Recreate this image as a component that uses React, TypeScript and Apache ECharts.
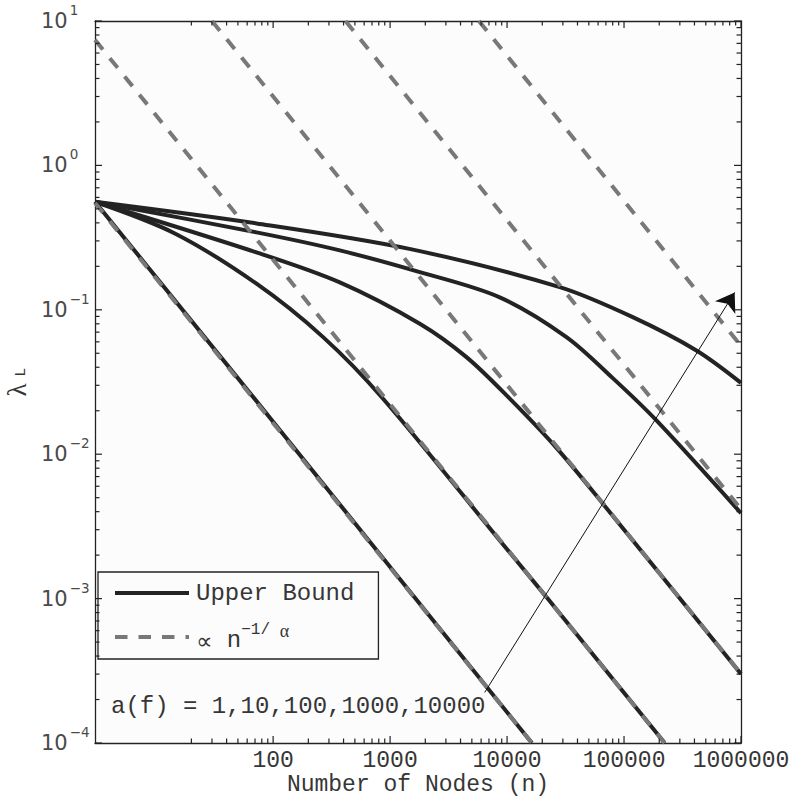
import React, { useEffect, useRef } from "react";
import * as echarts from "echarts";

// ---- axis ranges ----
const xMin = 3;
const xMax = 1000000;
const yMin = 0.0001;
const yMax = 10;

// ---- tick labels / tick values ----
const xLabelValues = [100, 1000, 10000, 100000, 1000000];
const xMinorDecades = [10, 100, 1000, 10000, 100000];
const yMajorTicks = [0.0001, 0.001, 0.01, 0.1, 1, 10];
const yMinorDecades = [0.0001, 0.001, 0.01, 0.1, 1];
const minorMultipliers = [2, 3, 4, 5, 6, 7, 8, 9];

// ---- Upper bound curves (n, lambda_L) for a(f) = 1, 10, 100, 1000, 10000 ----
const boundA1 = [[3, 0.56], [100, 0.0168], [16300, 0.0001]];
const boundA10 = [
  [3, 0.56], [14.45, 0.338], [72.1, 0.1516], [267.6, 0.0647], [871, 0.02423],
  [8660, 0.002529], [21720, 0.001024], [222800, 0.0001],
];
const boundA100 = [
  [3, 0.56], [72.1, 0.2497], [371.7, 0.1548], [1794, 0.0801], [4498, 0.047],
  [10546, 0.02423], [26430, 0.01106], [66160, 0.004527], [1000000, 0.000301],
];
const boundA1000 = [
  [3, 0.56], [72.1, 0.3436], [371.7, 0.2578], [1794, 0.1824], [8660, 0.1219],
  [32190, 0.0647], [80540, 0.03349], [189200, 0.01714], [1000000, 0.003904],
];
const boundA10000 = [
  [3, 0.56], [72.1, 0.3966], [1462, 0.2641], [28210, 0.1436],
  [118700, 0.089], [415700, 0.0523], [1000000, 0.0312],
];

// ---- proportional to n^(-1/alpha) reference lines ----
const propA1 = [[3, 0.55], [16300, 0.0001]];
const propA10 = [[3, 7.4], [222000, 0.0001]];
const propA100 = [[30, 10], [1000000, 0.000302]];
const propA1000 = [[416, 10], [1000000, 0.00417]];
const propA10000 = [[5750, 10], [1000000, 0.0563]];

// ---- arrow annotation (start, end) ----
const arrowCoords = [[6440, 0.000224], [883000, 0.132]];
const annotationText = "a(f) = 1,10,100,1000,10000";

const boundSeries = [boundA1, boundA10, boundA100, boundA1000, boundA10000];
const propSeries = [propA1, propA10, propA100, propA1000, propA10000];

const SOLID = "#232323";
const DASH = "#787878";
const FRAME = "#222222";
const TEXT = "#363636";
const MONO = '"Liberation Mono", "DejaVu Sans Mono", monospace';

export default function App() {
  const ref = useRef<HTMLDivElement>(null);

  useEffect(() => {
    if (!ref.current) return;
    const chart = echarts.init(ref.current, undefined, { renderer: "svg" });

    const xTickData: number[][] = [];
    xLabelValues.forEach((v) => xTickData.push([v, yMax, 7]));
    xMinorDecades.forEach((d) =>
      minorMultipliers.forEach((m) => xTickData.push([d * m, yMax, 4.5]))
    );
    const yTickData: number[][] = [];
    yMajorTicks.forEach((v) => yTickData.push([xMax, v, 7]));
    yMinorDecades.forEach((d) =>
      minorMultipliers.forEach((m) => yTickData.push([xMax, d * m, 4.5]))
    );

    const tickStyle = { stroke: FRAME, lineWidth: 1.2 };

    const series: any[] = [];
    boundSeries.forEach((data, i) =>
      series.push({
        type: "line",
        name: "Upper Bound",
        data,
        showSymbol: false,
        symbol: "none",
        smooth: i === 0 ? false : 0.32,
        lineStyle: { color: SOLID, width: 4 },
        itemStyle: { color: SOLID },
        clip: true,
        z: 3,
      })
    );
    propSeries.forEach((data) =>
      series.push({
        type: "line",
        name: "prop",
        data,
        showSymbol: false,
        symbol: "none",
        lineStyle: { color: DASH, width: 4, type: [12.5, 11] },
        itemStyle: { color: DASH },
        clip: true,
        z: 4,
      })
    );
    series.push({
      type: "lines",
      coordinateSystem: "cartesian2d",
      xAxisIndex: 0,
      yAxisIndex: 0,
      data: [{ coords: arrowCoords }],
      symbol: ["none", "arrow"],
      symbolSize: [12, 18],
      lineStyle: { color: "#111", width: 1, opacity: 1, curveness: 0 },
      silent: true,
      z: 5,
    });
    series.push({
      type: "custom",
      name: "xticks",
      xAxisIndex: 0,
      yAxisIndex: 0,
      data: xTickData,
      clip: false,
      silent: true,
      z: 6,
      encode: { x: 0, y: 1 },
      renderItem: (params: any, api: any) => {
        const cs = params.coordSys;
        const x = api.coord([api.value(0), yMax])[0];
        const len = api.value(2);
        return {
          type: "group",
          children: [
            { type: "line", shape: { x1: x, y1: cs.y + cs.height, x2: x, y2: cs.y + cs.height - len }, style: tickStyle },
            { type: "line", shape: { x1: x, y1: cs.y, x2: x, y2: cs.y + len }, style: tickStyle },
          ],
        };
      },
    });
    series.push({
      type: "custom",
      name: "yticks",
      xAxisIndex: 0,
      yAxisIndex: 0,
      data: yTickData,
      clip: false,
      silent: true,
      z: 6,
      encode: { x: 0, y: 1 },
      renderItem: (params: any, api: any) => {
        const cs = params.coordSys;
        const y = api.coord([xMax, api.value(1)])[1];
        const len = api.value(2);
        return {
          type: "group",
          children: [
            { type: "line", shape: { x1: cs.x, y1: y, x2: cs.x + len, y2: y }, style: tickStyle },
            { type: "line", shape: { x1: cs.x + cs.width, y1: y, x2: cs.x + cs.width - len, y2: y }, style: tickStyle },
          ],
        };
      },
    });

    const baseAxis = {
      type: "log" as const,
      logBase: 10,
      axisLine: { show: true, onZero: false, lineStyle: { color: FRAME, width: 1.3 } },
      axisTick: { show: false },
      splitLine: { show: false },
      minorTick: { show: false },
    };

    chart.setOption({
      animation: false,
      backgroundColor: "#ffffff",
      grid: {
        left: 95,
        right: 51,
        top: 21,
        bottom: 55,
        containLabel: false,
        outerBoundsMode: "none",
        show: true,
        backgroundColor: "#fcfcfc",
        borderWidth: 0,
      },
      xAxis: [
        {
          ...baseAxis,
          position: "bottom",
          min: xMin,
          max: xMax,
          axisLabel: {
            show: true,
            showMinLabel: false,
            margin: 6,
            fontFamily: MONO,
            fontSize: 23,
            color: TEXT,
            formatter: (v: number) => {
              const r = Math.round(v);
              return xLabelValues.indexOf(r) >= 0 ? String(r) : "";
            },
          },
          name: "Number of Nodes (n)",
          nameLocation: "middle",
          nameGap: 32,
          nameMoveOverlap: false,
          nameTextStyle: { fontFamily: MONO, fontSize: 23, color: TEXT, lineHeight: 20 },
        },
        {
          ...baseAxis,
          position: "top",
          min: xMin,
          max: xMax,
          axisLabel: { show: false },
        },
      ],
      yAxis: [
        {
          ...baseAxis,
          position: "left",
          min: yMin,
          max: yMax,
          axisLabel: {
            show: true,
            align: "left",
            margin: 54,
            formatter: (v: number) => {
              const e = Math.round(Math.log10(v));
              return `{b|10}{s|${e < 0 ? "\u2212" + -e : e}}`;
            },
            rich: {
              b: { fontFamily: "DejaVu Sans", fontSize: 21, color: "#4a4a4a", lineHeight: 36 },
              s: { fontFamily: "DejaVu Sans", fontSize: 13.5, color: "#4a4a4a", lineHeight: 13.5, verticalAlign: "top", padding: [0, 0, 0, 2] },
            },
          },
          name: "{l|\u03bb}  {s|L}",
          nameLocation: "middle",
          nameGap: 66,
          nameMoveOverlap: false,
          nameTextStyle: {
            rich: {
              l: { fontFamily: '"Liberation Serif", serif', fontSize: 27, color: TEXT, lineHeight: 24 },
              s: { fontFamily: MONO, fontSize: 15, color: TEXT, lineHeight: 15, verticalAlign: "bottom" },
            },
          },
        },
        {
          ...baseAxis,
          position: "right",
          min: yMin,
          max: yMax,
          axisLabel: { show: false },
        },
      ],
      legend: {
        show: true,
        data: ["Upper Bound", "prop"],
        orient: "vertical",
        left: 98,
        top: 572,
        padding: [9, 24, 7, 15],
        itemWidth: 74,
        itemHeight: 14,
        itemGap: 9,
        borderColor: FRAME,
        borderWidth: 1.3,
        borderRadius: 0,
        backgroundColor: "#fcfcfc",
        selectedMode: false,
        itemStyle: { opacity: 0, borderWidth: 0 },
        lineStyle: { width: 4 },
        textStyle: {
          fontFamily: MONO,
          fontSize: 24,
          color: TEXT,
          lineHeight: 24,
          padding: [0, 0, 0, 2],
          rich: {
            p: { fontFamily: "DejaVu Sans", fontSize: 23, color: TEXT, lineHeight: 24, verticalAlign: "bottom" },
            n: { fontFamily: MONO, fontSize: 24, color: TEXT, lineHeight: 24, verticalAlign: "bottom", padding: [14, 0, 0, 0] },
            s: { fontFamily: MONO, fontSize: 16, color: TEXT, lineHeight: 30, verticalAlign: "top" },
            a: { fontFamily: '"Liberation Serif", serif', fontSize: 18, color: TEXT, lineHeight: 30, verticalAlign: "top" },
          },
        },
        formatter: (name: string) =>
          name === "prop" ? "{p|\u221d} {n|n}{s|\u22121/ }{a|\u03b1}" : name,
      },
      graphic: [
        {
          type: "text",
          x: 111,
          y: 706.6,
          silent: true,
          style: {
            text: annotationText,
            font: `24px ${MONO}`,
            fill: TEXT,
            textAlign: "left",
            textVerticalAlign: "middle",
          },
          z: 10,
        },
      ],
      series,
    });

    return () => chart.dispose();
  }, []);

  return (
    <div
      ref={ref}
      style={{ position: "fixed", left: 0, top: 0, width: 792, height: 798 }}
    />
  );
}
